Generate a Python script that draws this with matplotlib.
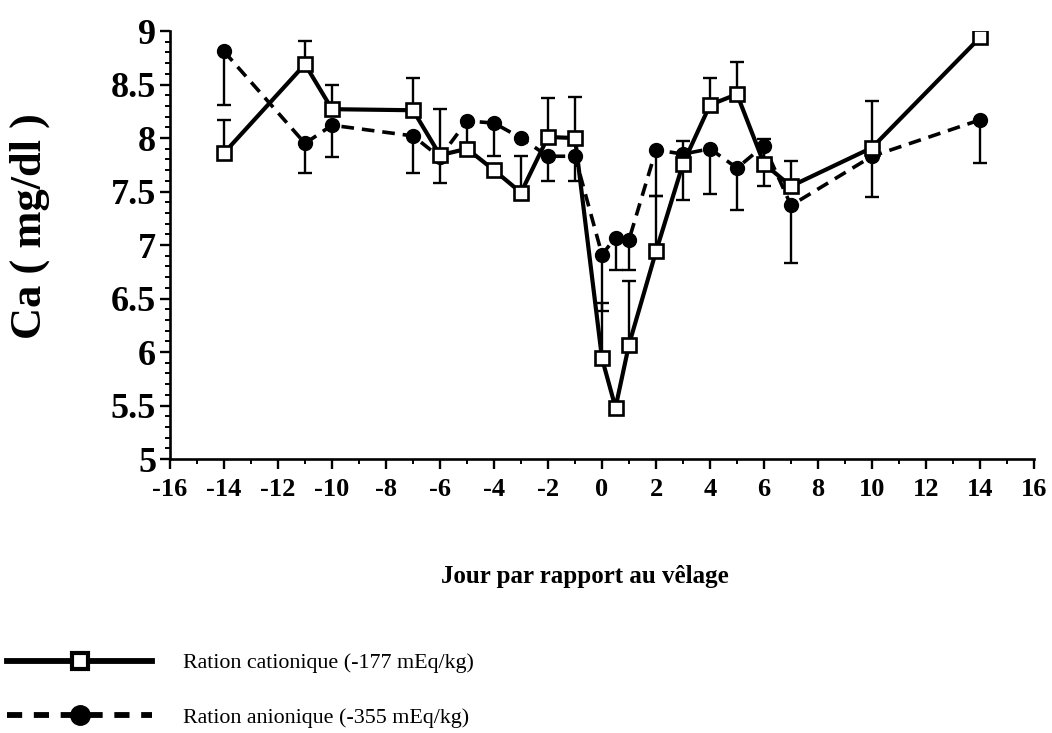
import matplotlib
matplotlib.use("Agg")
import matplotlib.pyplot as plt
import numpy as np
from matplotlib.lines import Line2D
from matplotlib.ticker import MultipleLocator, FormatStrFormatter

# jours par rapport au vêlage
days = [-14, -11, -10, -7, -6, -5, -4, -3, -2, -1, 0, 0.5, 1, 2, 3, 4, 5, 6, 7, 10, 14]

# Ration cationique (carrés), barre vers le haut
cat_ca = [7.86, 8.69, 8.27, 8.26, 7.84, 7.90, 7.70, 7.49, 8.01, 8.00,
          5.94, 5.48, 6.07, 6.94, 7.76, 8.31, 8.41, 7.76, 7.55, 7.91, 8.94]
cat_up = [0.31, 0.22, 0.23, 0.30, 0.43, 0.00, 0.00, 0.34, 0.36, 0.38,
          0.52, 0.00, 0.59, 0.52, 0.21, 0.25, 0.30, 0.23, 0.24, 0.44, 0.00]

# Ration anionique (ronds), barre vers le bas
ani_ca = [8.81, 7.95, 8.12, 8.02, 7.82, 8.16, 8.14, 8.00, 7.83, 7.83,
          6.91, 7.07, 7.05, 7.89, 7.85, 7.90, 7.72, 7.93, 7.37, 7.83, 8.17]
ani_down = [0.50, 0.28, 0.30, 0.35, 0.24, 0.21, 0.31, 0.00, 0.23, 0.23,
            0.53, 0.30, 0.28, 0.43, 0.43, 0.42, 0.39, 0.38, 0.54, 0.38, 0.40]

label_cat = "Ration cationique (-177 mEq/kg)"
label_ani = "Ration anionique (-355 mEq/kg)"

serif = ["Liberation Serif", "DejaVu Serif"]
plt.rcParams["font.family"] = serif
plt.rcParams["axes.unicode_minus"] = False

fig = plt.figure(figsize=(10.52, 7.33), dpi=100)
ax = fig.add_axes([0.1616, 0.3738, 0.8213, 0.5838])

zeros = np.zeros(len(days))

ax.plot(days, ani_ca, color="black", linewidth=2.6,
        linestyle=(0, (3.5, 2.2)), marker="o", markersize=10,
        markerfacecolor="black", markeredgecolor="black", zorder=3)
ax.errorbar(days, ani_ca, yerr=[ani_down, zeros], fmt="none",
            ecolor="black", elinewidth=1.7, capsize=5, capthick=1.7, zorder=2)

ax.plot(days, cat_ca, color="black", linewidth=3.0,
        linestyle="-", marker="s", markersize=10,
        markerfacecolor="white", markeredgecolor="black",
        markeredgewidth=1.9, zorder=4)
ax.errorbar(days, cat_ca, yerr=[zeros, cat_up], fmt="none",
            ecolor="black", elinewidth=1.7, capsize=5, capthick=1.7, zorder=2)

ax.set_xlim(-16, 16)
ax.set_ylim(5, 9)
ax.xaxis.set_major_locator(MultipleLocator(2))
ax.xaxis.set_minor_locator(MultipleLocator(1))
ax.yaxis.set_major_locator(MultipleLocator(0.5))
ax.yaxis.set_minor_locator(MultipleLocator(0.1))
ax.yaxis.set_major_formatter(FormatStrFormatter("%g"))

for side in ["top", "right"]:
    ax.spines[side].set_visible(False)
for side in ["left", "bottom"]:
    ax.spines[side].set_linewidth(1.9)

ax.tick_params(axis="both", which="major", direction="out", length=7,
               width=1.7, color="black")
ax.tick_params(axis="both", which="minor", direction="out", length=3.5,
               width=1.4, color="black")
ax.tick_params(axis="x", which="major", labelsize=19, pad=7)
ax.tick_params(axis="y", which="major", labelsize=26, pad=3)
for lbl in ax.get_xticklabels() + ax.get_yticklabels():
    lbl.set_fontweight("bold")

ax.set_ylabel("Ca ( mg/dl )", fontsize=32, fontweight="bold")
ax.yaxis.set_label_coords(-0.139, 0.545)

fig.text(0.556, 1 - 577 / 733, "Jour par rapport au vêlage",
         fontsize=18, fontweight="bold", ha="center", va="center")

# échantillons de légende plus épais, comme sur la figure d'origine
leg_cat = Line2D([], [], color="black", linewidth=4.2, linestyle="-",
                 marker="s", markersize=11, markerfacecolor="white",
                 markeredgecolor="black", markeredgewidth=3)
leg_ani = Line2D([], [], color="black", linewidth=4.2,
                 linestyle=(0, (2.6, 2.0)), marker="o", markersize=14,
                 markerfacecolor="black", markeredgecolor="black")

fig.legend(handles=[leg_cat, leg_ani], labels=[label_cat, label_ani],
           loc="upper left", bbox_to_anchor=(0.007, 0.109), frameon=False,
           numpoints=1, handlelength=6.6, handletextpad=1.4,
           labelspacing=1.55, borderpad=0, borderaxespad=0,
           prop={"family": serif, "size": 15.8})

fig.savefig("out.png", dpi=100)
